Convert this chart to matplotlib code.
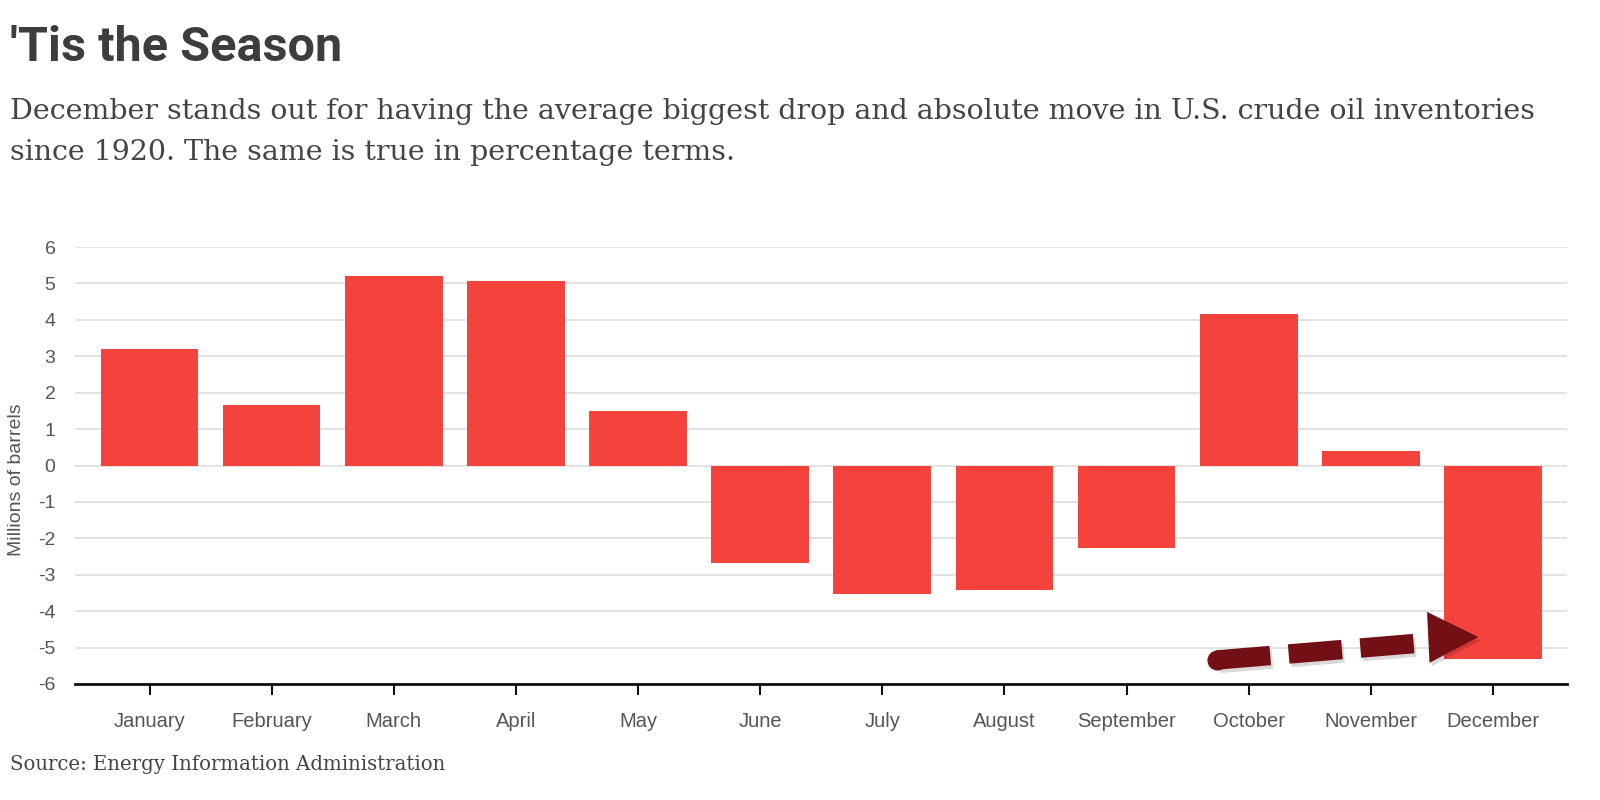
import matplotlib
matplotlib.use("Agg")
import matplotlib.pyplot as plt
import matplotlib.patheffects as pe
from matplotlib.patches import Polygon

months = ["January", "February", "March", "April", "May", "June", "July",
          "August", "September", "October", "November", "December"]
values = [3.19, 1.65, 5.20, 5.06, 1.51, -2.69, -3.52, -3.41, -2.27, 4.17, 0.39, -5.31]
yticks = [6, 5, 4, 3, 2, 1, 0, -1, -2, -3, -4, -5, -6]

title = "'Tis the Season"
subtitle = ("December stands out for having the average biggest drop and absolute move in U.S. crude oil inventories\n"
            "since 1920. The same is true in percentage terms.")
source = "Source: Energy Information Administration"
ylabel = "Millions of barrels"

BAR = "#f4433c"
ARROW = "#731016"

fig = plt.figure(figsize=(16, 8), dpi=100)
ax = fig.add_axes([75/1600, 116/800, (1567-75)/1600, (684-247)/800])

x = list(range(len(months)))
ax.bar(x, values, width=0.8, color=BAR, zorder=3)

ax.set_xlim(-0.61, 11.606)
ax.set_ylim(-6, 6)
ax.set_yticks(yticks)
ax.set_yticklabels([str(t) for t in yticks])
ax.set_xticks(x)
ax.set_xticklabels(months)
ax.grid(axis="y", color="#dddddd", linewidth=1.2, zorder=0)
for s in ["top", "right", "left"]:
    ax.spines[s].set_visible(False)
ax.spines["bottom"].set_color("#111111")
ax.spines["bottom"].set_linewidth(2)
ax.tick_params(axis="y", length=0, pad=14, labelsize=14, labelcolor="#555555")
ax.tick_params(axis="x", length=8, width=1.5, color="#111111", pad=12,
               labelsize=14.5, labelcolor="#555555")
for lab in ax.get_xticklabels() + ax.get_yticklabels():
    lab.set_family("Liberation Sans")
ax.set_ylabel(ylabel, fontsize=14, color="#555555", family="Liberation Sans")
ax.yaxis.set_label_coords(-0.0335, 0.467)

# Arrow annotation
line, = ax.plot([8.74, 10.39], [-5.34, -4.88], color=ARROW, linewidth=14,
                solid_capstyle="butt", zorder=5)
line.set_dashes((2.75, 0.95))
line.set_path_effects([pe.SimpleLineShadow(offset=(1.5, -2.5), alpha=0.15), pe.Normal()])
ax.plot([8.74], [-5.34], marker="o", markersize=13.5, color=ARROW, zorder=5)
head = Polygon([[10.46, -4.02], [10.88, -4.71], [10.48, -5.42]], closed=True,
               facecolor=ARROW, edgecolor="none", zorder=6)
head.set_path_effects([pe.SimplePatchShadow(offset=(1.5, -2.5), shadow_rgbFace="#000000", alpha=0.15),
                       pe.Normal()])
ax.add_patch(head)

fig.text(10/1600, 1 - 48/800, title, fontsize=35, fontweight="bold", color="#3d3d3d",
         family="Roboto", va="center", ha="left")
fig.text(10/1600, 1 - 132/800, subtitle, fontsize=20.5, color="#444444",
         family="DejaVu Serif", va="center", ha="left", linespacing=1.62)
fig.text(10/1600, 1 - 764/800, source, fontsize=14.2, color="#444444",
         family="DejaVu Serif", va="center", ha="left")

fig.savefig("out.png", dpi=100, facecolor="white")
